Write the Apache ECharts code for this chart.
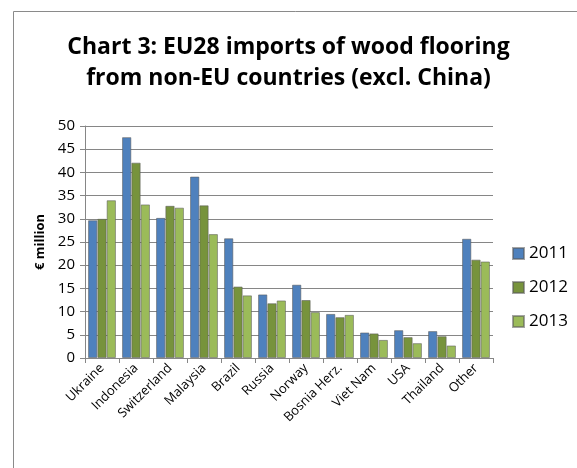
<!DOCTYPE html>
<html><head><meta charset="utf-8">
<script src="https://cdn.jsdelivr.net/npm/echarts@6/dist/echarts.min.js"></script>
<style>html,body{margin:0;padding:0;background:#fff}#c{width:577px;height:468px}</style>
</head><body><div id="c"></div>
<script>
const categories = ["Ukraine","Indonesia","Switzerland","Malaysia","Brazil","Russia","Norway","Bosnia Herz.","Viet Nam","USA","Thailand","Other"];
const s2011 = [29.7,47.6,30.2,39.1,25.8,13.7,15.8,9.5,5.5,6.0,5.8,25.7];
const s2012 = [30.0,42.1,32.8,32.9,15.4,11.8,12.5,8.8,5.3,4.5,4.7,21.2];
const s2013 = [34.0,33.1,32.4,26.7,13.5,12.4,9.9,9.3,3.9,3.2,2.7,20.8];
const seriesNames = ["2011","2012","2013"];
const colors = ["#4F81BD","#77933C","#9BBB59"];
const yTicks = [0,5,10,15,20,25,30,35,40,45,50];

const font = "Open Sans";
const chart = echarts.init(document.getElementById('c'), null, {renderer:'canvas'});
const mk = (name, data, i) => ({
  name, type:'bar', data, barGap:'0%', barCategoryGap:'18%',
  itemStyle:{color:colors[i], borderColor:'rgba(90,90,90,0.55)', borderWidth:1},
  emphasis:{disabled:true}
});
chart.setOption({
  animation:false,
  graphic:[{type:'rect', shape:{x:13.5,y:11.5,width:700,height:600}, style:{fill:'none', stroke:'#8a8a8a', lineWidth:1}, silent:true}],
  title:{
    text:"Chart 3: EU28 imports of wood flooring\nfrom non-EU countries (excl. China)",
    left:'center', top:27,
    textStyle:{fontFamily:font, fontWeight:'bold', fontSize:23, lineHeight:31, color:'#000'}
  },
  legend:{
    orient:'vertical', left:507, top:240, itemGap:17,
    itemWidth:11, itemHeight:11, icon:'rect',
    textStyle:{fontFamily:font, fontSize:17, color:'#000'},
    data:seriesNames
  },
  grid:{left:85, right:84, top:126, bottom:110},
  xAxis:{
    type:'category', data:categories,
    axisLine:{lineStyle:{color:'#868686'}},
    axisTick:{show:true, alignWithLabel:false, length:5, lineStyle:{color:'#868686'}},
    axisLabel:{interval:0, rotate:45, fontFamily:font, fontSize:13, color:'#000', margin:8}
  },
  yAxis:{
    type:'value', min:0, max:50, interval:5,
    name:'€ million', nameLocation:'middle', nameGap:38, nameRotate:90,
    nameTextStyle:{fontFamily:font, fontWeight:'bold', fontSize:13, color:'#000'},
    axisLine:{show:true, lineStyle:{color:'#868686'}},
    axisTick:{show:true, length:5, lineStyle:{color:'#868686'}},
    axisLabel:{fontFamily:font, fontSize:15, color:'#000', margin:10,
      formatter:v=> yTicks.includes(v)? String(v):''},
    splitLine:{lineStyle:{color:'#868686'}}
  },
  series:[mk("2011",s2011,0), mk("2012",s2012,1), mk("2013",s2013,2)]
});
</script></body></html>
